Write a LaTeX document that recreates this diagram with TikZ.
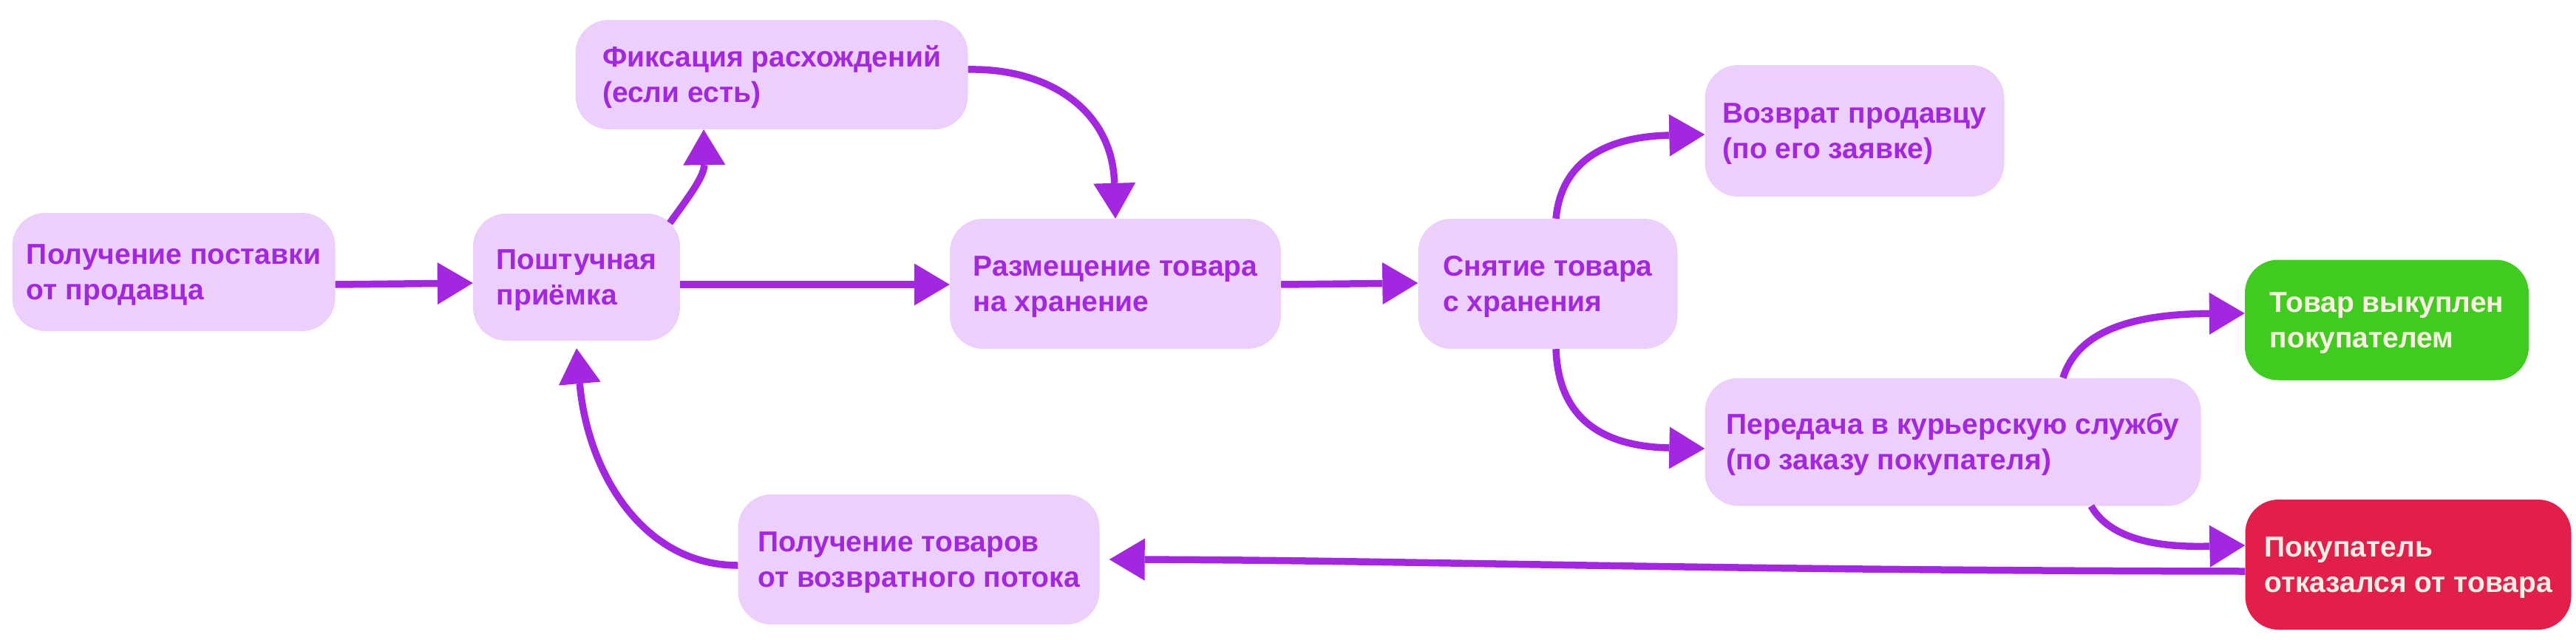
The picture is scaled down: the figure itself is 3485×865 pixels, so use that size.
\documentclass[tikz,border=0pt]{standalone}
\usepackage{fontspec}
\setmainfont{Liberation Sans}
\usetikzlibrary{arrows.meta}
\definecolor{lav}{RGB}{236,207,250}
\definecolor{purp}{RGB}{163,38,224}
\definecolor{okgreen}{RGB}{64,203,32}
\definecolor{badred}{RGB}{226,30,74}
\definecolor{cream}{RGB}{255,240,230}
\newcommand\myTop{\rule{0pt}{36pt}}
\newcommand\myBot{\rule[-10pt]{0pt}{10pt}}
\begin{document}
\begin{tikzpicture}[x=1pt,y=-1pt,
  box/.style={rectangle, rounded corners=45pt, fill=lav, text=purp, align=left,
    inner sep=0pt, font=\fontsize{39pt}{48pt}\selectfont\bfseries},
  okbox/.style={box, fill=okgreen, text=cream},
  badbox/.style={box, fill=badred, text=cream},
  flow/.style={draw=purp, line width=9.5pt,
    -{Triangle[length=48pt,width=57pt,line width=0pt]}}]
\useasboundingbox (0,0) rectangle (3485,865);

\node[box, minimum width=437pt, minimum height=160pt] (A) at (235,368)
  {\myTop Получение поставки\\от продавца\myBot};
\node[box, minimum width=280pt, minimum height=172pt] (B) at (780,375)
  {\myTop Поштучная\\приёмка\myBot};
\node[box, minimum width=531pt, minimum height=148pt] (C) at (1044,101)
  {\myTop Фиксация расхождений\\(если есть)\myBot};
\node[box, minimum width=448pt, minimum height=176pt] (D) at (1509,384)
  {\myTop Размещение товара\\на хранение\myBot};
\node[box, minimum width=351pt, minimum height=176pt] (E) at (2094,384)
  {\myTop Снятие товара\\с хранения\myBot};
\node[box, minimum width=405pt, minimum height=178pt] (F) at (2509,177)
  {\myTop Возврат продавцу\\(по его заявке)\myBot};
\node[box, minimum width=671pt, minimum height=173pt] (G) at (2642,598)
  {\myTop Передача в курьерскую службу\\(по заказу покупателя)\myBot};
\node[okbox, minimum width=384pt, minimum height=163pt] (H) at (3229,433)
  {\myTop Товар выкуплен\\покупателем\myBot};
\node[badbox, minimum width=441pt, minimum height=176pt] (I) at (3258,764)
  {\myTop Покупатель\\отказался от товара\myBot};
\node[box, minimum width=489pt, minimum height=176pt] (J) at (1243,757)
  {\myTop Получение товаров\\от возвратного потока\myBot};

\draw[flow] ([yshift=-17pt]A.east) -- ([yshift=-8pt]B.west);
\draw[flow] ([yshift=-10pt]B.east) -- ([yshift=-1pt]D.west);
\draw[flow] ([xshift=-14pt,yshift=-13pt]B.north east) .. controls (925,275) and (953,240) .. ([xshift=-92pt]C.south);
\draw[flow] ([yshift=7pt]C.east) .. controls (1420,92) and (1505,150) .. (D.north);
\draw[flow] ([yshift=-1pt]D.east) -- ([yshift=1pt]E.west);
\draw[flow] ([xshift=11pt]E.north) .. controls (2112,220) and (2170,185) .. ([yshift=-5pt]F.west);
\draw[flow] ([xshift=11pt]E.south) .. controls (2108,560) and (2160,604) .. ([yshift=-9pt]G.west);
\draw[flow] ([xshift=149pt]G.north) .. controls (2810,450) and (2880,425) .. ([yshift=9pt]H.west);
\draw[flow] ([xshift=187pt]G.south) .. controls (2860,740) and (2950,740) .. ([yshift=26pt]I.west);
\draw[flow] ([yshift=-9pt]I.west) .. controls (2300,772) and (1900,758) .. ([xshift=13pt]J.east);
\draw[flow] ([yshift=-8pt]J.west) .. controls (870,765) and (795,640) .. ([yshift=-10pt]B.south);
\end{tikzpicture}
\end{document}
